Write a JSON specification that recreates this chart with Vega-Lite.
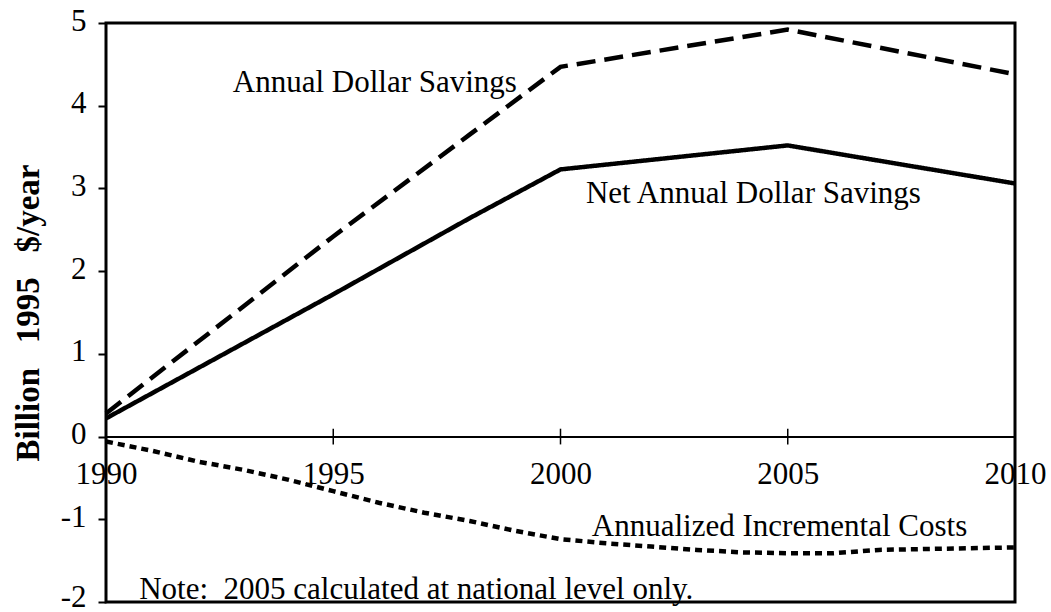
{
  "$schema": "https://vega.github.io/schema/vega-lite/v6.json",
  "width": 909,
  "height": 579,
  "autosize": {"type": "none"},
  "padding": {"left": 106, "top": 23, "right": 36, "bottom": 10},
  "background": "white",
  "config": {
    "view": {"stroke": "black", "strokeWidth": 3},
    "font": "Liberation Serif",
    "text": {"font": "Liberation Serif"}
  },
  "datasets": {
    "series": [
      {"series": "Annual Dollar Savings", "year": 1990, "value": 0.28},
      {"series": "Annual Dollar Savings", "year": 1995, "value": 2.42},
      {"series": "Annual Dollar Savings", "year": 1998, "value": 3.65},
      {"series": "Annual Dollar Savings", "year": 2000, "value": 4.47},
      {"series": "Annual Dollar Savings", "year": 2005, "value": 4.92},
      {"series": "Annual Dollar Savings", "year": 2010, "value": 4.38},
      {"series": "Net Annual Dollar Savings", "year": 1990, "value": 0.22},
      {"series": "Net Annual Dollar Savings", "year": 1995, "value": 1.72},
      {"series": "Net Annual Dollar Savings", "year": 1998, "value": 2.64},
      {"series": "Net Annual Dollar Savings", "year": 2000, "value": 3.23},
      {"series": "Net Annual Dollar Savings", "year": 2005, "value": 3.52},
      {"series": "Net Annual Dollar Savings", "year": 2010, "value": 3.06},
      {"series": "Annualized Incremental Costs", "year": 1990, "value": -0.06},
      {"series": "Annualized Incremental Costs", "year": 1991, "value": -0.17},
      {"series": "Annualized Incremental Costs", "year": 1992, "value": -0.3},
      {"series": "Annualized Incremental Costs", "year": 1993, "value": -0.4},
      {"series": "Annualized Incremental Costs", "year": 1994, "value": -0.52},
      {"series": "Annualized Incremental Costs", "year": 1995, "value": -0.66},
      {"series": "Annualized Incremental Costs", "year": 1996, "value": -0.8},
      {"series": "Annualized Incremental Costs", "year": 1997, "value": -0.92},
      {"series": "Annualized Incremental Costs", "year": 1998, "value": -1.02},
      {"series": "Annualized Incremental Costs", "year": 1999, "value": -1.14},
      {"series": "Annualized Incremental Costs", "year": 2000, "value": -1.24},
      {"series": "Annualized Incremental Costs", "year": 2001, "value": -1.29},
      {"series": "Annualized Incremental Costs", "year": 2002, "value": -1.33},
      {"series": "Annualized Incremental Costs", "year": 2003, "value": -1.37},
      {"series": "Annualized Incremental Costs", "year": 2004, "value": -1.4},
      {"series": "Annualized Incremental Costs", "year": 2005, "value": -1.41},
      {"series": "Annualized Incremental Costs", "year": 2006, "value": -1.41},
      {"series": "Annualized Incremental Costs", "year": 2007, "value": -1.37},
      {"series": "Annualized Incremental Costs", "year": 2008, "value": -1.36},
      {"series": "Annualized Incremental Costs", "year": 2009, "value": -1.35},
      {"series": "Annualized Incremental Costs", "year": 2010, "value": -1.34}
    ],
    "labels": [
      {"label": "Annual Dollar Savings", "year": 1992.79, "value": 4.16},
      {"label": "Net Annual Dollar Savings", "year": 2000.56, "value": 2.82},
      {"label": "Annualized Incremental Costs", "year": 2000.69, "value": -1.2},
      {"label": "Note:\u00a0\u00a02005 calculated at national level only.", "year": 1990.73, "value": -1.96}
    ],
    "ticks": [{"year": 1995}, {"year": 2000}, {"year": 2005}]
  },
  "layer": [
    {
      "data": {"name": "series"},
      "mark": {"type": "line", "color": "black", "strokeWidth": 4.5},
      "encoding": {
        "x": {
          "field": "year",
          "type": "quantitative",
          "scale": {"domain": [1990, 2010], "nice": false, "zero": false},
          "axis": {
            "title": null,
            "values": [1990, 1995, 2000, 2005, 2010],
            "format": "d",
            "offset": -165.43,
            "ticks": false,
            "domainWidth": 2,
            "domainColor": "black",
            "labelFontSize": 31,
            "labelFont": "Liberation Serif",
            "labelColor": "black",
            "labelPadding": 23,
            "labelFlush": false,
            "labelOverlap": false,
            "labelBound": false,
            "grid": false
          }
        },
        "y": {
          "field": "value",
          "type": "quantitative",
          "scale": {"domain": [-2, 5], "nice": false, "zero": false},
          "axis": {
            "title": "Billion\u00a0\u00a0\u00a01995\u00a0\u00a0\u00a0$/year",
            "titleFont": "Liberation Serif",
            "titleFontSize": 33,
            "titleFontWeight": "bold",
            "titleColor": "black",
            "titleAngle": -90,
            "titleX": -68,
            "titleY": 289.5,
            "titleAlign": "center",
            "titleBaseline": "alphabetic",
            "values": [-2, -1, 0, 1, 2, 3, 4, 5],
            "labelExpr": "'' + datum.value",
            "domain": false,
            "ticks": true,
            "tickSize": 8,
            "tickWidth": 2,
            "tickColor": "black",
            "labelFontSize": 31,
            "labelFont": "Liberation Serif",
            "labelColor": "black",
            "labelPadding": 12,
            "labelOffset": {"condition": {"test": "datum.value == -2", "value": -5}, "value": -2},
            "labelBaseline": "middle",
            "labelFlush": false,
            "labelOverlap": false,
            "labelBound": false,
            "grid": false
          }
        },
        "detail": {"field": "series"},
        "strokeDash": {
          "field": "series",
          "type": "nominal",
          "scale": {
            "domain": ["Annual Dollar Savings", "Net Annual Dollar Savings", "Annualized Incremental Costs"],
            "range": [[19, 9], [1, 0], [7, 5]]
          },
          "legend": null
        }
      }
    },
    {
      "data": {"name": "ticks"},
      "mark": {"type": "rule", "color": "black", "strokeWidth": 1.5},
      "encoding": {
        "x": {"field": "year", "type": "quantitative"},
        "y": {"datum": -0.095},
        "y2": {"datum": 0.095}
      }
    },
    {
      "data": {"name": "labels"},
      "mark": {"type": "text", "align": "left", "baseline": "alphabetic", "fontSize": 31, "font": "Liberation Serif", "color": "black"},
      "encoding": {
        "x": {"field": "year", "type": "quantitative"},
        "y": {"field": "value", "type": "quantitative"},
        "text": {"field": "label"}
      }
    }
  ]
}
